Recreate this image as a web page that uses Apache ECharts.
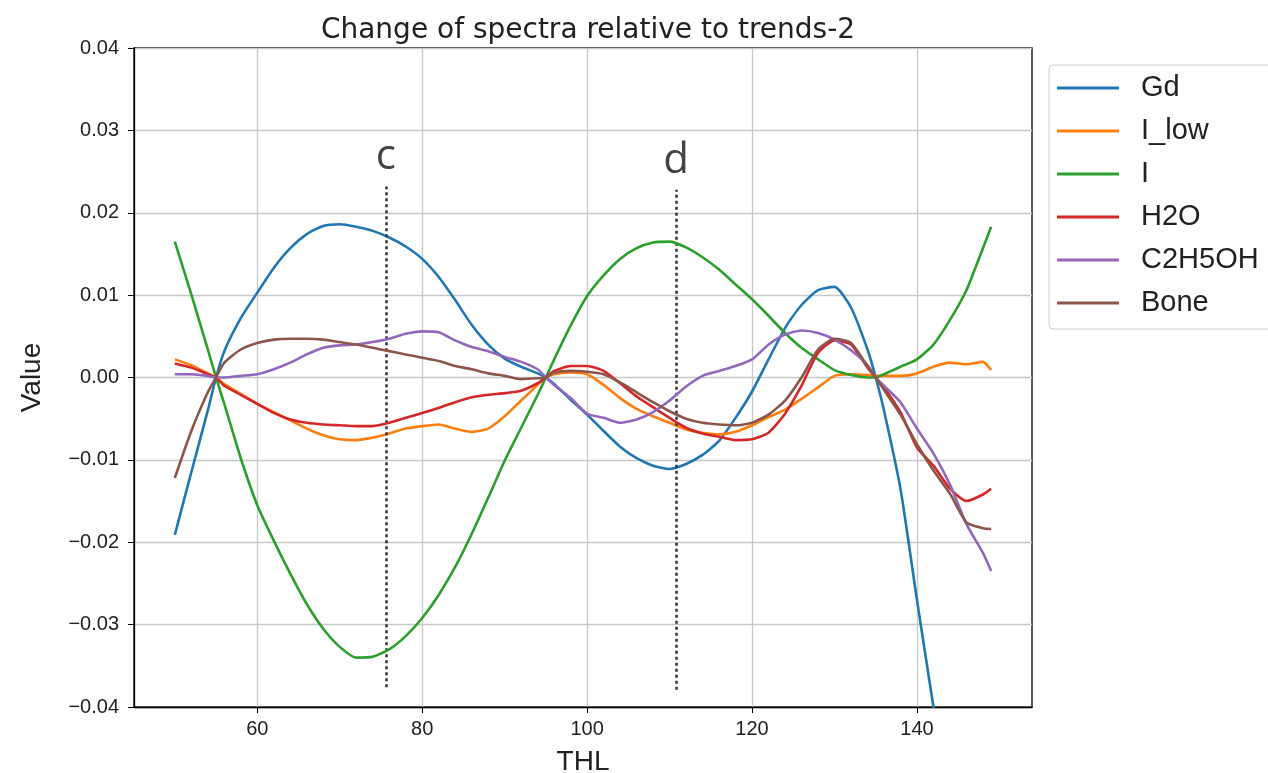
<!DOCTYPE html>
<html>
<head>
<meta charset="utf-8">
<script src="https://cdn.jsdelivr.net/npm/echarts@6/dist/echarts.min.js"></script>
<style>
  html, body { margin: 0; padding: 0; background: #fff; }
  #main { width: 1268px; height: 773px; }
</style>
</head>
<body>
<div id="main"></div>
<script>
// THL positions (all curves cross zero at 55, 95 and 135)
const thl = [
  50, 52, 54, 55, 56, 58, 60, 62, 64, 66,
  68, 70, 72, 74, 76, 78, 80, 82, 84, 86,
  88, 90, 92, 94, 95, 96, 98, 100, 102, 104,
  106, 108, 110, 112, 114, 116, 118, 120, 122, 124,
  126, 128, 130, 132, 134, 135, 136, 138, 140, 142,
  144, 146, 148, 149
];

const gd = [
  -0.0191, -0.0115, -0.0040, 0.0000, 0.0032, 0.0072, 0.0103, 0.0133, 0.0157, 0.0174,
  0.0184, 0.0186, 0.0183, 0.0178, 0.0170, 0.0159, 0.0144, 0.0122, 0.0094, 0.0064,
  0.0040, 0.0023, 0.0013, 0.0005, 0.0000, -0.0008, -0.0027, -0.0045, -0.0065, -0.0084,
  -0.0098, -0.0107, -0.0111, -0.0105, -0.0094, -0.0077, -0.0049, -0.0017, 0.0022, 0.0060,
  0.0088, 0.0106, 0.0110, 0.0085, 0.0034, 0.0000, -0.0040, -0.0135, -0.0270, -0.0400,
  -0.0530, -0.0660, -0.0790, -0.0850
];

const iLow = [
  0.0022, 0.0015, 0.0005, 0.0000, -0.0008, -0.0020, -0.0032, -0.0042, -0.0052, -0.0062,
  -0.0070, -0.0075, -0.0076, -0.0073, -0.0068, -0.0062, -0.0059, -0.0057, -0.0062, -0.0066,
  -0.0062, -0.0047, -0.0028, -0.0009, 0.0000, 0.0004, 0.0006, 0.0004, -0.0009, -0.0025,
  -0.0038, -0.0047, -0.0055, -0.0063, -0.0067, -0.0069, -0.0066, -0.0058, -0.0048, -0.0039,
  -0.0026, -0.0012, 0.0002, 0.0004, 0.0003, 0.0002, 0.0002, 0.0002, 0.0005, 0.0013,
  0.0018, 0.0016, 0.0019, 0.0009
];

const iod = [
  0.0165, 0.0101, 0.0034, 0.0000, -0.0032, -0.0098, -0.0155, -0.0198, -0.0238, -0.0275,
  -0.0305, -0.0327, -0.0340, -0.0339, -0.0330, -0.0314, -0.0292, -0.0264, -0.0230, -0.0190,
  -0.0146, -0.0101, -0.0061, -0.0021, 0.0000, 0.0022, 0.0063, 0.0099, 0.0124, 0.0144,
  0.0157, 0.0164, 0.0165, 0.0158, 0.0146, 0.0131, 0.0113, 0.0095, 0.0075, 0.0054,
  0.0036, 0.0022, 0.0009, 0.0003, 0.0000, 0.0000, 0.0004, 0.0013, 0.0022, 0.0040,
  0.0070, 0.0106, 0.0157, 0.0183
];

const h2o = [
  0.0017, 0.0012, 0.0004, 0.0000, -0.0010, -0.0021, -0.0032, -0.0043, -0.0051, -0.0055,
  -0.0057, -0.0058, -0.0059, -0.0059, -0.0055, -0.0049, -0.0043, -0.0037, -0.0030, -0.0024,
  -0.0021, -0.0019, -0.0016, -0.0007, 0.0000, 0.0008, 0.0014, 0.0014, 0.0008, -0.0007,
  -0.0023, -0.0036, -0.0049, -0.0061, -0.0068, -0.0072, -0.0076, -0.0075, -0.0067, -0.0044,
  -0.0010, 0.0030, 0.0045, 0.0040, 0.0012, 0.0000, -0.0012, -0.0042, -0.0085, -0.0107,
  -0.0135, -0.0150, -0.0142, -0.0135
];

const ethanol = [
  0.0004, 0.0004, 0.0002, 0.0000, 0.0000, 0.0002, 0.0004, 0.0010, 0.0018, 0.0028,
  0.0036, 0.0039, 0.0040, 0.0043, 0.0047, 0.0053, 0.0056, 0.0055, 0.0045, 0.0037,
  0.0032, 0.0025, 0.0019, 0.0010, 0.0000, -0.0009, -0.0025, -0.0044, -0.0049, -0.0055,
  -0.0051, -0.0042, -0.0028, -0.0011, 0.0002, 0.0008, 0.0014, 0.0022, 0.0040, 0.0052,
  0.0057, 0.0054, 0.0046, 0.0033, 0.0015, 0.0000, -0.0010, -0.0030, -0.0062, -0.0092,
  -0.0130, -0.0178, -0.0213, -0.0235
];

const bone = [
  -0.0122, -0.0065, -0.0018, 0.0000, 0.0018, 0.0034, 0.0042, 0.0046, 0.0047, 0.0047,
  0.0046, 0.0043, 0.0040, 0.0036, 0.0032, 0.0028, 0.0024, 0.0020, 0.0014, 0.0010,
  0.0005, 0.0002, -0.0002, -0.0001, 0.0000, 0.0006, 0.0008, 0.0007, 0.0004, -0.0006,
  -0.0018, -0.0030, -0.0041, -0.0050, -0.0055, -0.0057, -0.0058, -0.0055, -0.0045, -0.0028,
  0.0000, 0.0034, 0.0047, 0.0042, 0.0014, 0.0000, -0.0015, -0.0045, -0.0081, -0.0113,
  -0.0141, -0.0176, -0.0183, -0.0184
];

const seriesNames = ['Gd', 'I_low', 'I', 'H2O', 'C2H5OH', 'Bone'];
const seriesValues = [gd, iLow, iod, h2o, ethanol, bone];
const colors = ['#1f77b4', '#ff7f0e', '#2ca02c', '#d62728', '#9467bd', '#8c564b'];

const xTicks = [60, 80, 100, 120, 140];

// dotted markers
const markNames = ['c', 'd'];
const markX = [75.6, 110.8];
const markTop = [0.0232, 0.0228];
const markBottom = [-0.0376, -0.0379];

const fontFam = '"Liberation Sans", Arial, sans-serif';

let chart = echarts.init(document.getElementById('main'));

const lineSeries = seriesNames.map((name, k) => ({
  name: name,
  type: 'line',
  data: thl.map((x, i) => [x, seriesValues[k][i]]),
  showSymbol: false,
  symbol: 'none',
  smooth: 0.2,
  clip: true,
  lineStyle: { width: 2.6, color: colors[k] },
  itemStyle: { color: colors[k] },
  z: 3 + k,
}));

// helper series that only carries the dotted c / d lines
lineSeries.push({
  name: 'marks',
  type: 'line',
  data: [],
  silent: true,
  markLine: {
    silent: true,
    symbol: ['none', 'none'],
    animation: false,
    lineStyle: { type: [3, 3], width: 2.5, color: '#333' },
    label: {
      show: true,
      position: 'end',
      distance: 8,
      fontFamily: '"Open Sans", "DejaVu Sans", sans-serif',
      fontSize: 42,
      color: '#444',
      formatter: p => p.data.labelText,
    },
    data: markX.map((x, i) => [
      { coord: [x, markBottom[i]], labelText: markNames[i] },
      { coord: [x, markTop[i]], labelText: markNames[i] },
    ]),
  },
});

chart.setOption({
  animation: false,
  color: colors,
  title: {
    text: 'Change of spectra relative to trends-2',
    left: 583,
    textAlign: 'center',
    top: 12,
    textStyle: { fontFamily: '"DejaVu Sans", sans-serif', fontSize: 28, fontWeight: 'normal', color: '#222' },
  },
  legend: {
    data: seriesNames,
    orient: 'vertical',
    left: 1049,
    top: 65,
    icon: 'rect',
    itemWidth: 62,
    itemHeight: 3,
    itemGap: 11,
    padding: [7, 20, 10, 8],
    borderColor: '#cccccc',
    borderWidth: 1,
    borderRadius: 4,
    textStyle: {
      fontFamily: fontFam,
      fontSize: 29,
      lineHeight: 32,
      color: '#222',
      padding: [0, 0, 0, 17],
    },
  },
  grid: {
    left: 134,
    right: 236,
    top: 48,
    bottom: 66,
    show: true,
    borderColor: '#000',
    borderWidth: 1.3,
    containLabel: false,
    outerBoundsMode: 'none',
  },
  xAxis: {
    type: 'value',
    min: 45.05,
    max: 153.95,
    name: 'THL',
    nameLocation: 'middle',
    nameGap: 41,
    nameTextStyle: { fontFamily: fontFam, fontSize: 28, color: '#222' },
    axisLine: { show: true, onZero: false, lineStyle: { color: '#000', width: 1.3 } },
    axisTick: { show: true, length: 6, customValues: xTicks, lineStyle: { color: '#000' } },
    axisLabel: {
      customValues: xTicks,
      margin: 12,
      fontFamily: fontFam,
      fontSize: 20,
      color: '#222',
    },
    splitLine: { show: true, lineStyle: { color: '#c8c8c8', width: 1.3 } },
  },
  yAxis: {
    type: 'value',
    min: -0.04,
    max: 0.04,
    interval: 0.01,
    name: 'Value',
    nameLocation: 'middle',
    nameGap: 88,
    nameTextStyle: { fontFamily: fontFam, fontSize: 28, color: '#222' },
    axisLine: { show: true, onZero: false, lineStyle: { color: '#000', width: 1.3 } },
    axisTick: { show: true, length: 6, lineStyle: { color: '#000' } },
    axisLabel: {
      margin: 15,
      fontFamily: fontFam,
      fontSize: 20,
      color: '#222',
      formatter: v => (v < -1e-9 ? '\u2212' : '') + Math.abs(v).toFixed(2),
    },
    splitLine: { show: true, lineStyle: { color: '#c8c8c8', width: 1.3 } },
  },
  series: lineSeries,
});
</script>
</body>
</html>
